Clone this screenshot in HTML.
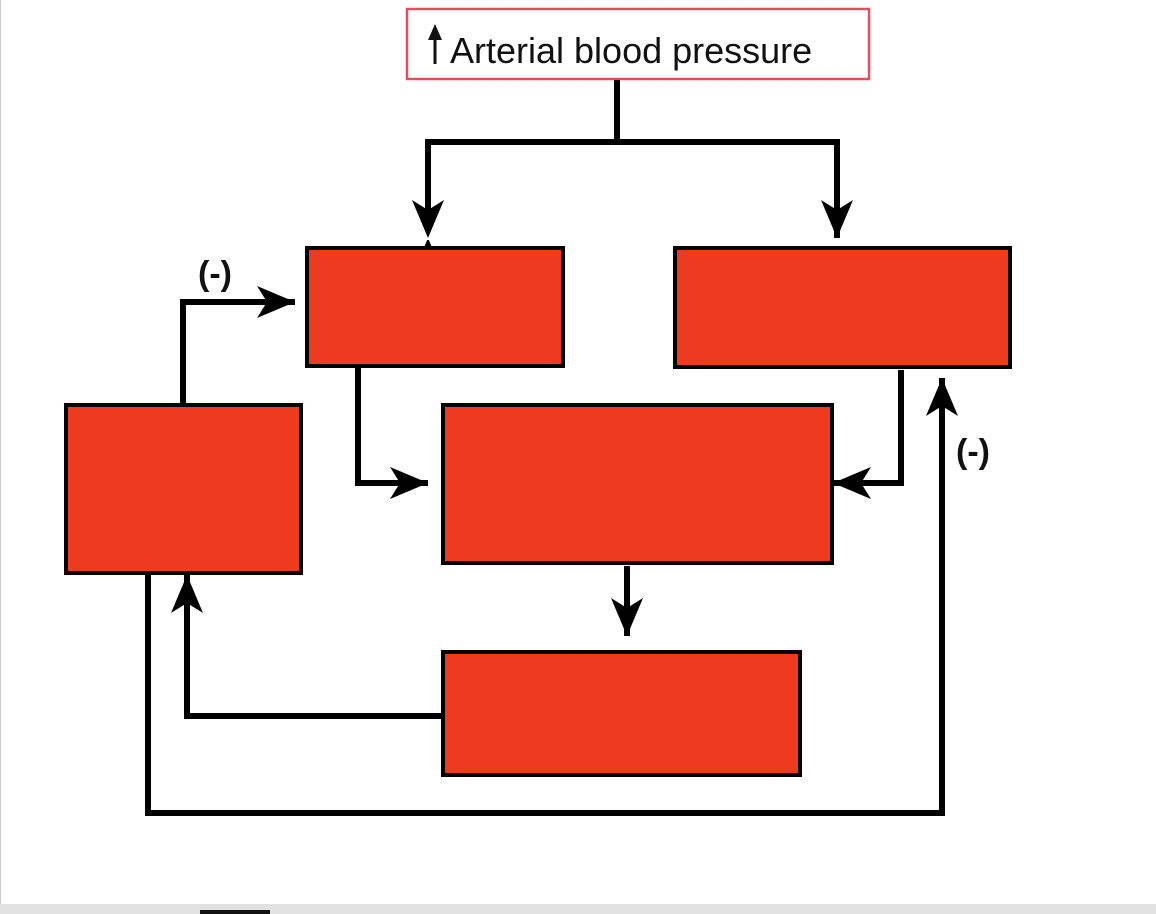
<!DOCTYPE html>
<html><head><meta charset="utf-8"><style>
html,body{margin:0;padding:0;background:#fff;}
svg{display:block;}
</style></head><body>
<svg width="1156" height="914" viewBox="0 0 1156 914" xmlns="http://www.w3.org/2000/svg">
<defs>
<marker id="a" markerUnits="userSpaceOnUse" markerWidth="40" markerHeight="36" refX="38" refY="18" orient="auto">
<path d="M38,18 L0,2 L10,18 L0,34 Z" fill="#000"/>
</marker>
</defs>
<rect x="0" y="0" width="1156" height="914" fill="#fff"/>
<line x1="0.5" y1="0" x2="0.5" y2="904" stroke="#ccc" stroke-width="1"/>
<rect x="0" y="904" width="1156" height="10" fill="#e2e2e2"/>
<rect x="200" y="910" width="70" height="4" fill="#111"/>

<rect x="407" y="9" width="462" height="70" fill="#fff" stroke="#e05060" stroke-width="2.5"/>
<text x="450" y="63" font-family="Liberation Sans, sans-serif" font-size="36" fill="#111">Arterial blood pressure</text>
<line x1="435" y1="64" x2="435" y2="36" stroke="#111" stroke-width="3"/>
<path d="M435,24 L428,40 L442,40 Z" fill="#111"/>

<g fill="none" stroke="#000" stroke-width="6" stroke-linejoin="miter">
<line x1="617" y1="80" x2="617" y2="142"/>
<polyline points="428,238 428,142 837,142 837,238" marker-start="url(#a)" marker-end="url(#a)"/>
<polyline points="183,405 183,302 295,302" marker-end="url(#a)"/>
<polyline points="358,367 358,483 428,483" marker-end="url(#a)"/>
<polyline points="901,370 901,483 833,483" marker-end="url(#a)"/>
<polyline points="627,566 627,636" marker-end="url(#a)"/>
<polyline points="443,716 187,716 187,575" marker-end="url(#a)"/>
<polyline points="148,573 148,813 942,813 942,378" marker-end="url(#a)"/>
</g>
<!-- fix reversed start marker by explicit arrow at 428 -->
<rect x="420" y="200" width="16" height="40" fill="#fff"/>
<path d="M428,238 L412,200 L428,210 L444,200 Z" fill="#000"/>
<line x1="428" y1="142" x2="428" y2="212" stroke="#000" stroke-width="6"/>

<g fill="#ee3a1f" stroke="#000" stroke-width="4">
<rect x="307" y="248" width="256" height="118"/>
<rect x="675" y="248" width="335" height="119"/>
<rect x="66" y="405" width="235" height="168"/>
<rect x="443" y="405" width="389" height="158"/>
<rect x="443" y="652" width="357" height="123"/>
</g>

<text x="198" y="285" font-family="Liberation Sans, sans-serif" font-weight="bold" font-size="34" fill="#111">(-)</text>
<text x="956" y="463" font-family="Liberation Sans, sans-serif" font-weight="bold" font-size="34" fill="#111">(-)</text>
</svg>
</body></html>
